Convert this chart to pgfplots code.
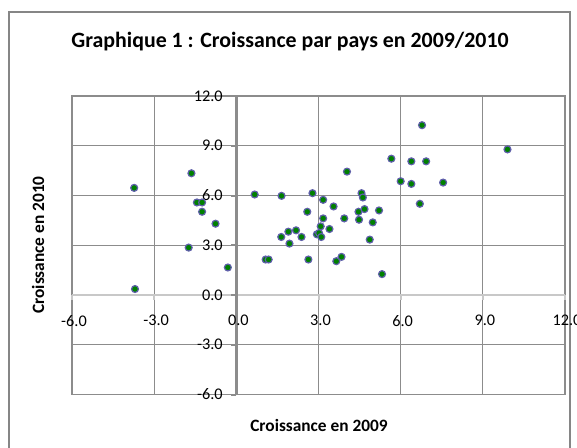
\documentclass[border=0pt]{standalone}
\usepackage{fontspec}
\setmainfont{Carlito}
\usepackage{pgfplots}
\pgfplotsset{compat=1.18}
\definecolor{markfill}{RGB}{0,128,0}
\definecolor{markdraw}{RGB}{95,95,170}
\definecolor{gridc}{RGB}{140,140,140}
\definecolor{axisy}{RGB}{140,140,140}
\definecolor{axisx}{RGB}{200,200,200}
\definecolor{framec}{RGB}{134,134,134}
\pgfkeys{/pgf/number format/.cd, fixed, fixed zerofill, precision=1, assume math mode=true}

\begin{document}
\begin{tikzpicture}
  % page: 577 x 448 px at 0.75 pt per px
  \useasboundingbox (0,0) rectangle (432.75pt,336pt);
  \draw[framec, line width=1pt] (6.75pt,0pt) -- (6.75pt,327pt) -- (427.5pt,327pt) -- (427.5pt,0pt);

  \begin{axis}[
    at={(54pt,40.1pt)}, anchor=south west,
    width=369.75pt, height=223.9pt, scale only axis,
    xmin=-6, xmax=12, ymin=-6, ymax=12,
    axis line style={draw=gridc, line width=0.8pt},
    xtick={-6,-3,...,12}, ytick={-6,-3,...,12},
    xticklabels={}, yticklabels={},
    major tick length=0pt,
    xmajorgrids, ymajorgrids,
    grid style={draw=gridc, line width=0.8pt},
    clip=false,
  ]
    % axes through the origin
    \draw[axisx, line width=2.2pt] (axis cs:-6,0) -- (axis cs:12,0);
    \draw[axisy, line width=2.2pt] (axis cs:0,-6) -- (axis cs:0,12);
    \pgfplotsinvokeforeach{-6,-3,3,6,9,12}{
      \draw[axisx, line width=1.5pt] (axis cs:#1,0) -- ++(0pt,-4pt);
    }
    \pgfplotsinvokeforeach{-6,-3,0,3,6,9,12}{
      \draw[axisy, line width=1.5pt] (axis cs:0,#1) -- ++(-4pt,0pt);
      \node[font=\fontsize{12.2}{14}\selectfont, anchor=north, inner sep=0pt]
        at ([xshift=1.5pt, yshift=-15pt]axis cs:#1,0) {\pgfmathprintnumber{#1}};
      \node[font=\fontsize{12.2}{14}\selectfont, anchor=east, inner sep=0pt]
        at ([xshift=-10pt]axis cs:0,#1) {\pgfmathprintnumber{#1}};
    }
    \addplot[only marks, mark=*, mark size=2.6pt,
      mark options={fill=markfill, draw=markdraw, line width=0.9pt}]
      coordinates {
      (-3.73,6.46) (-3.70,0.36) (-1.64,7.34) (-1.44,5.58) (-1.25,5.58)
      (-1.25,5.02) (-1.74,2.86) (-0.76,4.30) (-0.31,1.66) (0.67,6.06)
      (1.65,5.98) (2.78,6.14) (3.17,5.74) (2.59,5.02) (3.17,4.62)
      (3.08,4.14) (1.64,3.50) (1.90,3.82) (2.18,3.90) (1.94,3.10)
      (2.38,3.50) (2.94,3.66) (3.02,3.74) (3.10,3.50) (1.07,2.14)
      (1.18,2.14) (2.63,2.14) (3.65,2.04) (3.84,2.30) (5.32,1.26)
      (4.87,3.34) (3.40,3.98) (3.94,4.62) (4.48,4.54) (4.98,4.38)
      (4.46,5.02) (4.68,5.18) (5.21,5.10) (3.55,5.34) (4.57,6.14)
      (4.62,5.88) (6.70,5.50) (4.04,7.44) (6.00,6.86) (6.39,6.70)
      (7.55,6.78) (5.66,8.22) (6.39,8.06) (6.93,8.06) (6.78,10.24)
      (9.90,8.78)
    };
  \end{axis}

  \node[font=\fontsize{16.4}{19}\selectfont\bfseries] at (217.5pt,304.5pt)
    {Graphique 1 : Croissance par pays en 2009/2010};
  \node[font=\fontsize{13}{15}\selectfont\bfseries] at (239.25pt,17.25pt)
    {Croissance en 2009};
  \node[font=\fontsize{13}{15}\selectfont\bfseries, rotate=90] at (28.5pt,152.25pt)
    {Croissance en 2010};
\end{tikzpicture}
\end{document}
